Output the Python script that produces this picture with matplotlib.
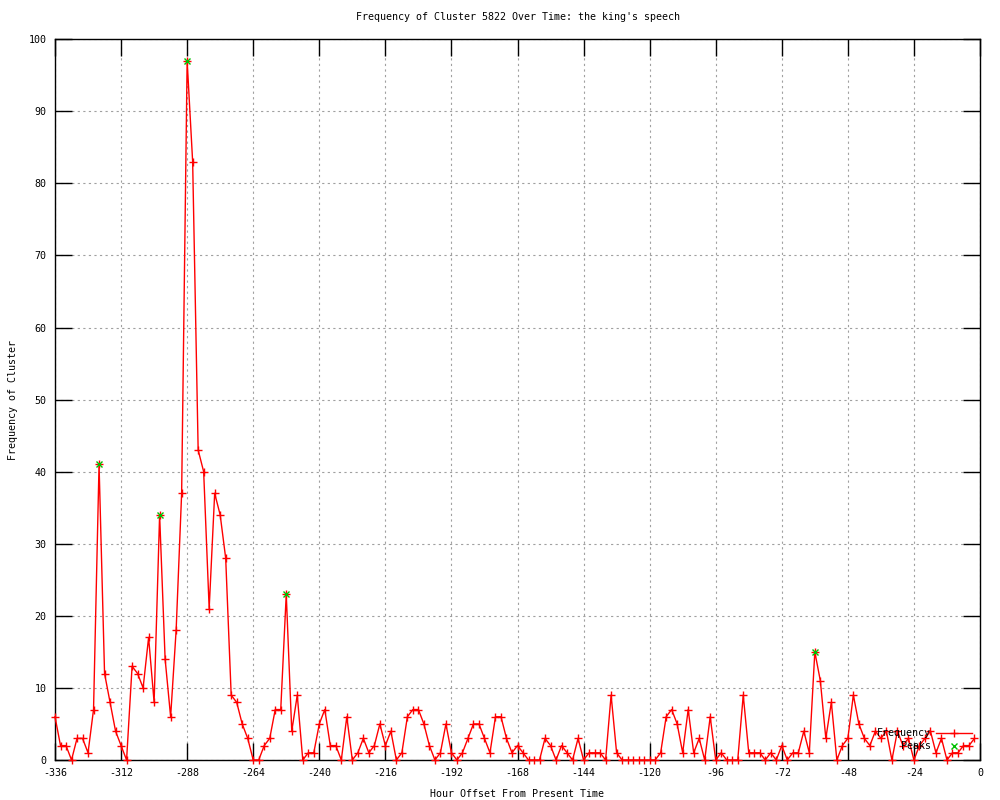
import matplotlib
matplotlib.use('Agg')
import matplotlib.pyplot as plt

# hourly offsets (every 2 hours) and cluster counts
hours = list(range(-336, 0, 2))
freq = [6, 2, 2, 0, 3, 3, 1, 7, 41, 12, 8, 4, 2, 0, 13, 12, 10, 17, 8, 34,
        14, 6, 18, 37, 97, 83, 43, 40, 21, 37, 34, 28, 9, 8, 5, 3, 0, 0, 2, 3,
        7, 7, 23, 4, 9, 0, 1, 1, 5, 7, 2, 2, 0, 6, 0, 1, 3, 1, 2, 5,
        2, 4, 0, 1, 6, 7, 7, 5, 2, 0, 1, 5, 1, 0, 1, 3, 5, 5, 3, 1,
        6, 6, 3, 1, 2, 1, 0, 0, 0, 3, 2, 0, 2, 1, 0, 3, 0, 1, 1, 1,
        0, 9, 1, 0, 0, 0, 0, 0, 0, 0, 1, 6, 7, 5, 1, 7, 1, 3, 0, 6,
        0, 1, 0, 0, 0, 9, 1, 1, 1, 0, 1, 0, 2, 0, 1, 1, 4, 1, 15, 11,
        3, 8, 0, 2, 3, 9, 5, 3, 2, 4, 3, 4, 0, 4, 2, 3, 0, 2, 3, 4,
        1, 3, 0, 1, 1, 2, 2, 3]

peak_hours = [-320, -298, -288, -252, -60]
peak_values = [41, 34, 97, 23, 15]

x_ticks = list(range(-336, 1, 24))
y_ticks = list(range(0, 101, 10))

plt.rcParams['font.family'] = 'DejaVu Sans Mono'
plt.rcParams['font.size'] = 7.2
plt.rcParams['axes.unicode_minus'] = False

fig = plt.figure(figsize=(10, 8), dpi=100)
ax = fig.add_axes([0.055, 0.05, 0.925, 0.901])

ax.plot(hours, freq, color='#ff0000', lw=1, marker='+', ms=5.5, mew=1,
        label='Frequency', clip_on=False, zorder=3)
ax.plot(peak_hours, peak_values, color='#00c000', lw=0, marker='x', ms=5,
        mew=1, label='Peaks', clip_on=False, zorder=4)

ax.set_xlim(-336, 0)
ax.set_ylim(0, 100)
ax.set_xticks(x_ticks)
ax.set_yticks(y_ticks)
ax.tick_params(direction='in', length=12, width=1, top=True, right=True,
               pad=6, labelsize=7.2)
ax.grid(True, color='#a0a0a0', lw=0.8, linestyle=(0, (2, 3)))
for s in ax.spines.values():
    s.set_linewidth(1)

ax.set_title("Frequency of Cluster 5822 Over Time: the king's speech",
             fontsize=7.2, pad=14)
ax.set_xlabel('Hour Offset From Present Time', fontsize=7.2, labelpad=8)
ax.set_ylabel('Frequency of Cluster', fontsize=7.2, labelpad=8)

ax.legend(loc='lower right', bbox_to_anchor=(0.997, 0.005), frameon=False,
          markerfirst=False, handlelength=3.6, handletextpad=0.5,
          labelspacing=0.3, borderpad=0, fontsize=7.2)

fig.savefig('out.png', dpi=100)
